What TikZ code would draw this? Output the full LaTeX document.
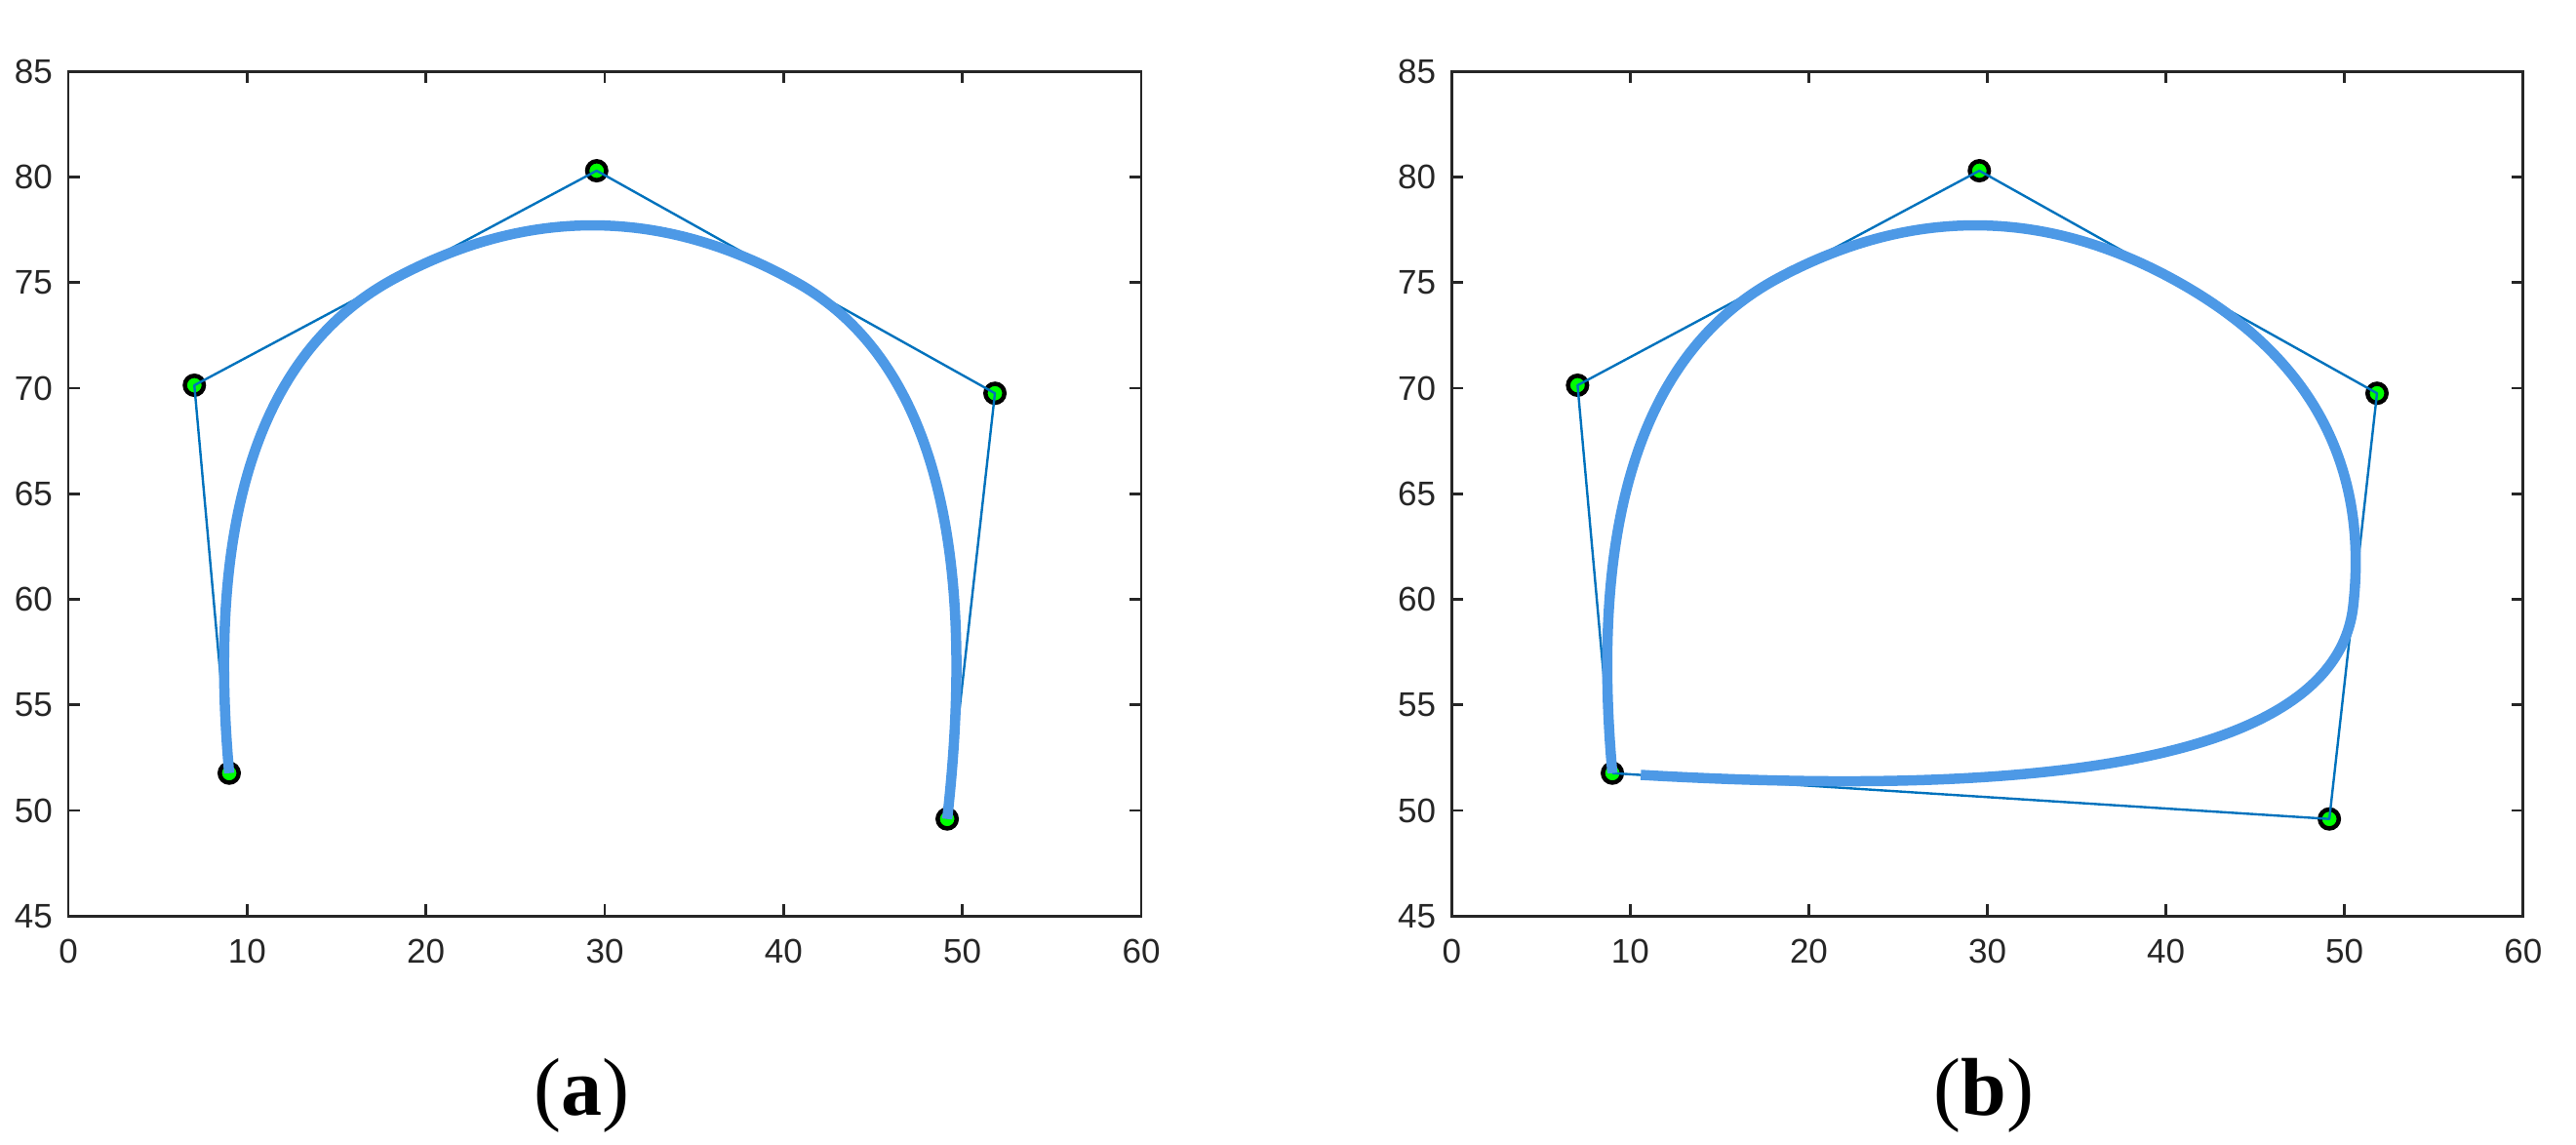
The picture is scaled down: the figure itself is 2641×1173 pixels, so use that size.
\documentclass[tikz,border=0pt]{standalone}
\usepackage{fontspec}
\setmainfont{Liberation Sans}
\newfontfamily\capfont{Liberation Serif}
\usetikzlibrary{calc}
\definecolor{axcol}{RGB}{38,38,38}
\definecolor{curvecol}{RGB}{77,153,230}
\definecolor{polycol}{RGB}{0,114,189}
\definecolor{ptgreen}{RGB}{0,255,0}
\tikzset{
  axisline/.style={draw=axcol,line width=2.7pt},
  ticklab/.style={inner sep=0pt,text=axcol,font=\fontsize{35}{42}\selectfont},
  xlab/.style={ticklab,anchor=north},
  ylab/.style={ticklab,anchor=east},
  ctrlpt/.style={circle,draw=black,fill=ptgreen,line width=4.5pt,minimum size=19.5pt,inner sep=0pt},
  polyline/.style={draw=polycol,line width=2.4pt,line join=round},
  bcurve/.style={draw=curvecol,line width=10.5pt,line join=round,line cap=butt},
  capt/.style={anchor=base,inner sep=0pt,text=black,font=\capfont\fontsize{84}{100}\selectfont}
}
\newcommand\mypanel[1]{%
  \draw[axisline] (0,45) rectangle (60,85);
  \foreach \t in {10,20,...,50} {
    \draw[axisline] (\t,45) -- ++(0pt,12pt);
    \draw[axisline] (\t,85) -- ++(0pt,-12pt);
  }
  \foreach \t in {50,55,...,80} {
    \draw[axisline] (0,\t) -- ++(12pt,0pt);
    \draw[axisline] (60,\t) -- ++(-12pt,0pt);
  }
  \foreach \t in {0,10,...,60} \node[xlab] (#1x\t) at ([yshift=-24pt]\t,45) {\t};
  \foreach \t in {45,50,...,85} \node[ylab] (#1y\t) at ([xshift=-16pt]0,\t) {\t};
  \coordinate (#1p0) at (9.0,51.77);
  \coordinate (#1p1) at (7.05,70.14);
  \coordinate (#1p2) at (29.55,80.30);
  \coordinate (#1p3) at (51.82,69.76);
  \coordinate (#1p4) at (49.15,49.6);
  \coordinate (#1m12) at ($(#1p1)!0.5!(#1p2)$);
  \coordinate (#1m23) at ($(#1p2)!0.5!(#1p3)$);
  \coordinate (#1m34) at ($(#1p3)!0.5!(#1p4)$);
  \foreach \i in {0,...,4} \node[ctrlpt] (#1n\i) at (#1p\i) {};
}
\begin{document}
\begin{tikzpicture}[x=1pt,y=1pt]
\useasboundingbox (0,0) rectangle (2641,1173);
\fill[white] (0,0) rectangle (2641,1173);
% panel (a)
\begin{scope}[x=18.3333pt,y=21.65pt,xshift=70pt,yshift=-740.55pt]
  \mypanel{a}
  \draw[polyline] (an0.center) -- (an1.center) -- (an2.center) -- (an3.center) -- (an4.center);
  \draw[bcurve] (ap0) .. controls ($(ap0)!2/3!(ap1)$) and ($(am12)!2/3!(ap1)$) .. (am12)
     .. controls ($(am12)!2/3!(ap2)$) and ($(am23)!2/3!(ap2)$) .. (am23)
     .. controls ($(am23)!2/3!(ap3)$) and ($(ap4)!2/3!(ap3)$) .. (ap4);
\end{scope}
% panel (b)
\begin{scope}[x=18.307pt,y=21.65pt,xshift=1488.3pt,yshift=-740.55pt]
  \mypanel{b}
  \coordinate (bd1) at ($(bm34)!0.98!(bp4)$);
  \coordinate (bd2) at ($(bp4)!0.98!(bp0)$);
  \coordinate (be) at ($(bd1)!0.98!(bd2)$);
  \draw[polyline] (bn0.center) -- (bn1.center) -- (bn2.center) -- (bn3.center) -- (bn4.center) -- (bn0.center);
  \draw[bcurve] (bp0) .. controls ($(bp0)!2/3!(bp1)$) and ($(bm12)!2/3!(bp1)$) .. (bm12)
     .. controls ($(bm12)!2/3!(bp2)$) and ($(bm23)!2/3!(bp2)$) .. (bm23)
     .. controls ($(bm23)!2/3!(bp3)$) and ($(bm34)!2/3!(bp3)$) .. (bm34)
     .. controls ($(bm34)!2/3!(bd1)$) and ($(be)!2/3!(bd1)$) .. (be);
\end{scope}
\node[capt] (capa) at (596,30) {(\textbf{a})};
\node[capt] (capb) at (2034,30) {(\textbf{b})};
\end{tikzpicture}
\end{document}
